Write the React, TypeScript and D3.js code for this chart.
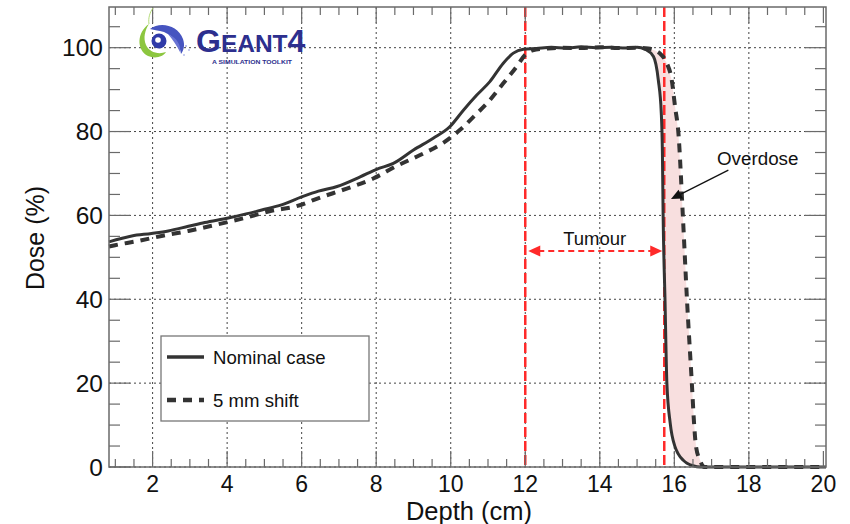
import React from "react";
import * as d3 from "d3";

const nominalDepth = [0.83, 1.44, 1.97, 2.42, 2.96, 3.4, 4.03, 4.48, 4.93, 5.46, 6.0, 6.45, 6.95, 7.57, 8.01, 8.46, 9.0, 9.53, 9.98, 10.34, 10.7, 11.05, 11.41, 11.68, 11.95, 12.3, 12.7, 13.1, 13.5, 13.9, 14.3, 14.7, 15.0, 15.22, 15.44, 15.57, 15.65, 15.68, 15.7, 15.75, 15.8, 15.89, 16.02, 16.1, 16.24, 16.34, 16.5, 16.7, 20.07];
const nominalDose = [53.7, 55.1, 55.7, 56.3, 57.4, 58.3, 59.4, 60.3, 61.3, 62.5, 64.4, 65.8, 66.9, 69.2, 71.0, 72.4, 75.6, 78.4, 81.2, 85.1, 88.7, 91.9, 96.3, 98.7, 99.6, 99.8, 100.1, 99.9, 100.2, 100.0, 100.1, 99.9, 100.1, 99.6, 97.9, 92.3, 84.4, 75, 59.7, 39.8, 20, 10.4, 4.8, 3.2, 1.6, 0.9, 0.3, 0, 0];

const shiftDepth = [0.83, 0.99, 1.61, 2.24, 2.96, 3.67, 4.48, 5.19, 5.82, 6.54, 7.21, 7.92, 8.55, 9.18, 9.8, 10.25, 10.61, 11.05, 11.41, 11.77, 12.0, 12.2, 12.6, 13.0, 13.5, 14.0, 14.5, 15.0, 15.3, 15.49, 15.65, 15.8, 15.93, 16.02, 16.11, 16.23, 16.34, 16.47, 16.53, 16.58, 16.69, 16.8, 20.0];
const shiftDose = [52.6, 52.9, 53.9, 55.1, 56.3, 57.7, 59.4, 61.1, 62.1, 64.4, 66.4, 68.8, 71.8, 74.4, 77.3, 80.4, 83.5, 87.5, 91.5, 95.5, 98.3, 99.4, 99.8, 100.0, 99.9, 100.1, 99.9, 100.0, 99.8, 99.3, 98.3, 96.3, 92.3, 85.9, 79.6, 59.7, 39.8, 20, 10.4, 5, 1.6, 0, 0];

const xTickValues = [2, 4, 6, 8, 10, 12, 14, 16, 18, 20];
const yTickValues = [0, 20, 40, 60, 80, 100];
const tumourStart = 12;
const tumourEnd = 15.73;
const tumourArrowDose = 51.5;
const overdoseFrom = [17.45, 70.8];
const overdoseTo = [15.91, 63.9];
const overdoseStart = 15.22;
const overdoseEnd = 16.8;

const FONT = "'Liberation Sans', Arial, Helvetica, sans-serif";

export default function App() {
  const L = 109, R = 826, T = 7, B = 467;
  const x = d3.scaleLinear().domain([0.83, 20.07]).range([L, R]);
  const y = d3.scaleLinear().domain([0, 109.7]).range([B, T]);

  const nominal = nominalDepth.map((d, i) => [d, nominalDose[i]] as [number, number]);
  const shifted = shiftDepth.map((d, i) => [d, shiftDose[i]] as [number, number]);

  const line = d3
    .line<[number, number]>()
    .x((d) => x(d[0]))
    .y((d) => y(d[1]))
    .curve(d3.curveMonotoneX);
  const lineLin = d3
    .line<[number, number]>()
    .x((d) => x(d[0]))
    .y((d) => y(d[1]));

  const fillPts = [
    ...nominal.filter((d) => d[0] >= overdoseStart && d[0] <= overdoseEnd),
    ...shifted.filter((d) => d[0] >= overdoseStart && d[0] <= overdoseEnd).reverse(),
  ];

  const minorX = d3.range(1, 20.01, 0.5).filter((v) => !xTickValues.includes(v));
  const minorY = d3.range(0, 106, 5).filter((v) => !yTickValues.includes(v));
  const frameColor = "#6a6a6a";

  const ax1 = x(overdoseFrom[0]), ay1 = y(overdoseFrom[1]);
  const ax2 = x(overdoseTo[0]), ay2 = y(overdoseTo[1]);
  const ang = Math.atan2(ay2 - ay1, ax2 - ax1);
  const ah = 11, aw = 5;
  const headPts = [
    [ax2, ay2],
    [ax2 - ah * Math.cos(ang) + aw * Math.sin(ang), ay2 - ah * Math.sin(ang) - aw * Math.cos(ang)],
    [ax2 - ah * Math.cos(ang) - aw * Math.sin(ang), ay2 - ah * Math.sin(ang) + aw * Math.cos(ang)],
  ];

  const tx1 = x(tumourStart) + 3, tx2 = x(tumourEnd) - 2, ty = y(tumourArrowDose);

  return (
    <svg width={850} height={524} style={{ position: "absolute", left: 0, top: 0, background: "#fff" }} fontFamily={FONT}>
      <rect x={0} y={0} width={850} height={524} fill="#fff" />
      {/* grid */}
      {xTickValues.filter((v) => v < 20).map((v) => (
        <line key={"gx" + v} x1={x(v)} x2={x(v)} y1={T} y2={B} stroke="#444" strokeWidth={1} strokeDasharray="2,3" />
      ))}
      {yTickValues.map((v) => (
        <line key={"gy" + v} x1={L} x2={R} y1={y(v)} y2={y(v)} stroke="#444" strokeWidth={1} strokeDasharray="2,3" />
      ))}

      {/* overdose fill */}
      <path d={lineLin(fillPts as [number, number][])! + "Z"} fill="#f8dfdf" stroke="none" />

      {/* red vertical lines */}
      {[tumourStart, tumourEnd].map((v) => (
        <line key={"r" + v} x1={x(v)} x2={x(v)} y1={T} y2={B} stroke="#ff2a2a" strokeWidth={2.5} strokeDasharray="10,4" />
      ))}

      {/* curves */}
      <path d={line(shifted)!} fill="none" stroke="#333" strokeWidth={4} strokeDasharray="9,7" />
      <path d={line(nominal)!} fill="none" stroke="#333" strokeWidth={3} />

      {/* tumour arrow */}
      <line x1={tx1 + 10} x2={tx2 - 10} y1={ty} y2={ty} stroke="#ff2a2a" strokeWidth={2} strokeDasharray="6,4" />
      <path d={`M${tx1},${ty} L${tx1 + 12},${ty - 5.5} L${tx1 + 12},${ty + 5.5} Z`} fill="#ff2a2a" />
      <path d={`M${tx2},${ty} L${tx2 - 12},${ty - 5.5} L${tx2 - 12},${ty + 5.5} Z`} fill="#ff2a2a" />
      <text x={(x(tumourStart) + x(tumourEnd)) / 2} y={245} fontSize={18.5} textAnchor="middle" fill="#111">Tumour</text>

      {/* overdose arrow */}
      <line x1={ax1} y1={ay1} x2={headPts[1][0] * 0.5 + headPts[2][0] * 0.5} y2={headPts[1][1] * 0.5 + headPts[2][1] * 0.5} stroke="#111" strokeWidth={1.3} />
      <path d={`M${headPts.map((p) => p.join(",")).join(" L")} Z`} fill="#111" />
      <text x={717} y={165} fontSize={18.8} fill="#111">Overdose</text>

      {/* frame */}
      <rect x={L} y={T} width={R - L} height={B - T} fill="none" stroke={frameColor} strokeWidth={1.5} />
      {/* x ticks */}
      {xTickValues.map((v) => (
        <g key={"xt" + v}>
          <line x1={x(v)} x2={x(v)} y1={B} y2={B - 16} stroke={frameColor} strokeWidth={1.2} />
          <line x1={x(v)} x2={x(v)} y1={T} y2={T + 16} stroke={frameColor} strokeWidth={1.2} />
          <text x={x(v)} y={492} fontSize={23} textAnchor="middle" fill="#111">{v}</text>
        </g>
      ))}
      {minorX.map((v) => (
        <g key={"xm" + v}>
          <line x1={x(v)} x2={x(v)} y1={B} y2={B - 8} stroke={frameColor} strokeWidth={1.2} />
          <line x1={x(v)} x2={x(v)} y1={T} y2={T + 8} stroke={frameColor} strokeWidth={1.2} />
        </g>
      ))}
      {/* y ticks */}
      {yTickValues.map((v) => (
        <g key={"yt" + v}>
          <line x1={L} x2={L + 21} y1={y(v)} y2={y(v)} stroke={frameColor} strokeWidth={1.2} />
          <line x1={R} x2={R - 21} y1={y(v)} y2={y(v)} stroke={frameColor} strokeWidth={1.2} />
          <text x={103} y={y(v) + 8.5} fontSize={24.5} textAnchor="end" fill="#111">{v}</text>
        </g>
      ))}
      {minorY.map((v) => (
        <g key={"ym" + v}>
          <line x1={L} x2={L + 11} y1={y(v)} y2={y(v)} stroke={frameColor} strokeWidth={1.2} />
          <line x1={R} x2={R - 11} y1={y(v)} y2={y(v)} stroke={frameColor} strokeWidth={1.2} />
        </g>
      ))}

      {/* axis titles */}
      <text x={469} y={520} fontSize={25.5} textAnchor="middle" fill="#111">Depth (cm)</text>
      <text transform="translate(44,238) rotate(-90)" fontSize={25} textAnchor="middle" fill="#111">Dose (%)</text>

      {/* legend */}
      <rect x={161} y={336} width={208} height={85} fill="#fff" stroke="#777" strokeWidth={1.3} />
      <line x1={167} x2={204} y1={357} y2={357} stroke="#333" strokeWidth={3.5} />
      <text x={213} y={363.5} fontSize={18.6} fill="#111">Nominal case</text>
      <line x1={167} x2={204} y1={400} y2={400} stroke="#333" strokeWidth={4.5} strokeDasharray="9,7" />
      <text x={213} y={406.5} fontSize={18.6} fill="#111">5 mm shift</text>

      {/* Geant4 logo */}
      <g>
        <path d="M149,24 C137,32 136,50 148,56 C155,59 163,57 166,52 C158,55 149,52 146,45 C143,38 145,30 149,24 Z" fill="#8cc63f" />
        <path d="M149,24 C148,18 150,12 153,8" stroke="#b5dc7a" strokeWidth={1} fill="none" />
        <circle cx={159} cy={41} r={7.5} fill="#2f3aa8" />
        <circle cx={158} cy={40} r={2.8} fill="#fff" />
        <path d="M150,29 C160,21 178,25 183,39 C185,45 184,50 181,54 C180,43 171,33 160,31 C156,30 153,30 150,29 Z" fill="#4654c0" />
        <path d="M168,34 C177,38 181,45 180,52 C177,46 173,40 168,34 Z" fill="#6a74d4" />
        <circle cx={186} cy={46} r={0.8} fill="#6a74d4" />
        <circle cx={189} cy={50} r={0.7} fill="#6a74d4" />
        <circle cx={184} cy={55} r={0.7} fill="#6a74d4" />
        <text x={196} y={52} fill="#2d2f8e" fontWeight="bold" fontFamily="'Liberation Sans', Arial, sans-serif">
          <tspan fontSize={32}>G</tspan>
          <tspan fontSize={24.5}>EANT</tspan>
          <tspan fontSize={32}>4</tspan>
        </text>
        <text x={212} y={63.5} fontSize={6.2} fontWeight="bold" fill="#2d2f8e" textLength={80} lengthAdjust="spacingAndGlyphs">A SIMULATION TOOLKIT</text>
      </g>
    </svg>
  );
}
